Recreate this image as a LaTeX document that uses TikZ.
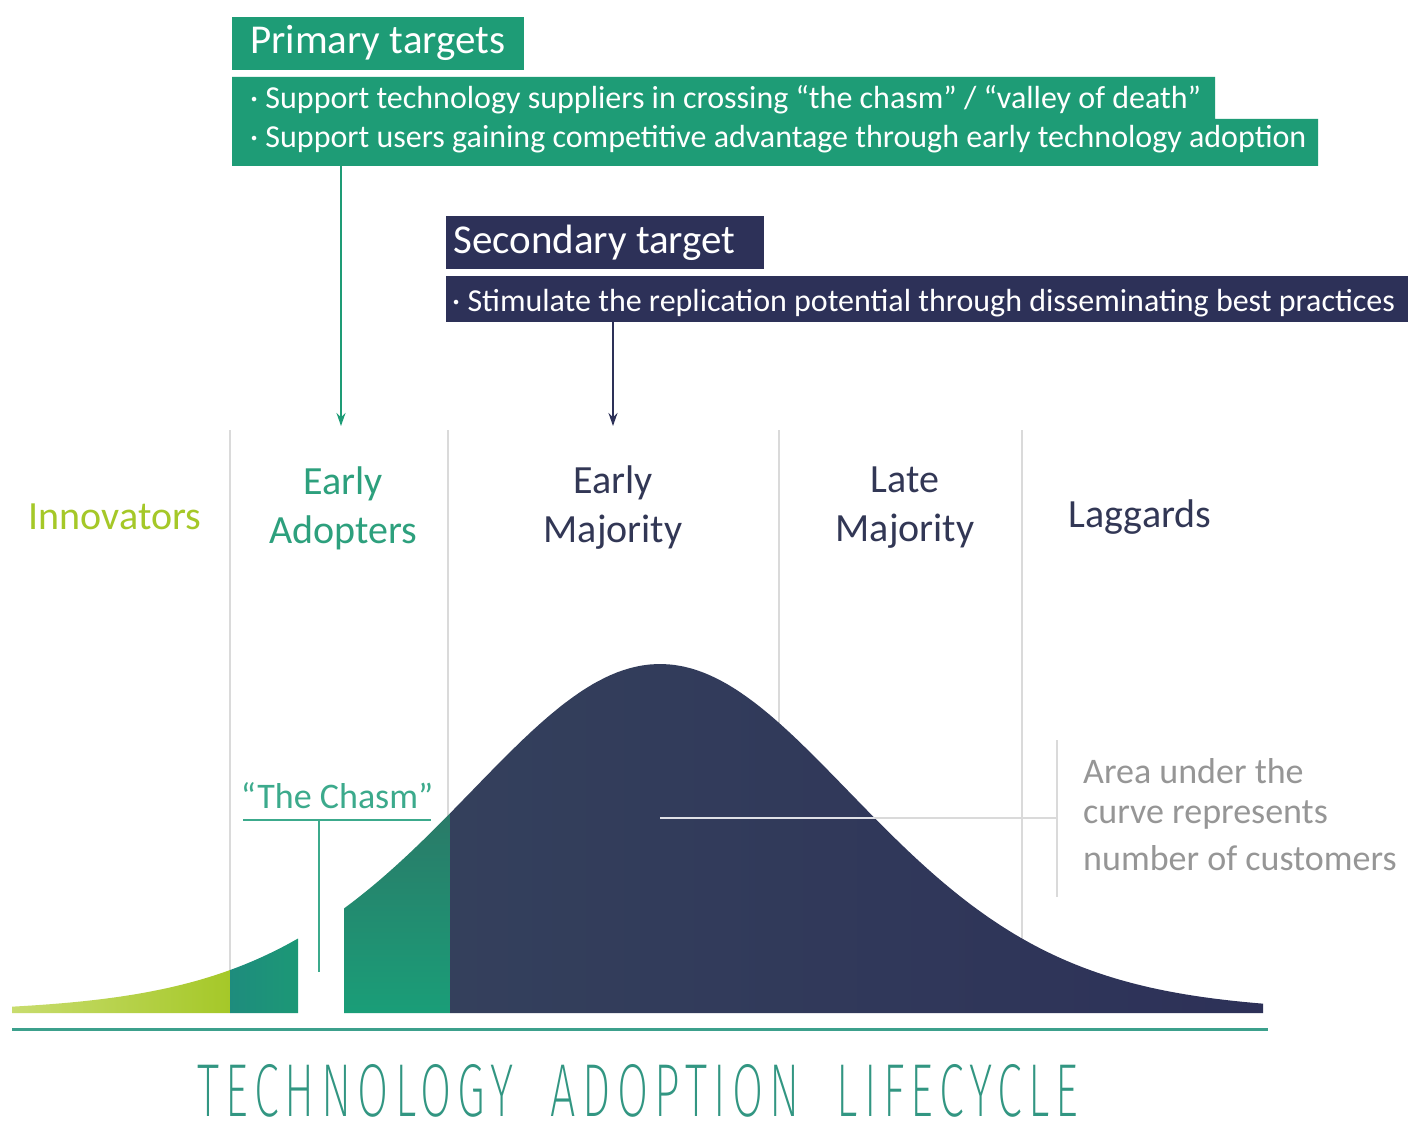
\documentclass[tikz,border=0pt]{standalone}
\usepackage{fontspec}
\usepackage{graphicx}
\setmainfont{Carlito}
\newfontfamily\thinfont[LetterSpace=14]{Fira Sans ExtraLight}
\usetikzlibrary{arrows.meta}
\definecolor{pgreen}{RGB}{30,156,118}
\definecolor{navy}{RGB}{45,49,88}
\definecolor{navyl}{RGB}{52,64,92}
\definecolor{innov}{RGB}{165,200,40}
\definecolor{innovl}{RGB}{200,220,110}
\definecolor{eatext}{RGB}{45,160,125}
\definecolor{chasm}{RGB}{60,170,140}
\definecolor{labnavy}{RGB}{50,55,85}
\definecolor{sepgray}{RGB}{218,218,218}
\definecolor{areagray}{RGB}{150,150,150}
\definecolor{baseteal}{RGB}{60,160,140}
\definecolor{titleteal}{RGB}{50,150,130}
\begin{document}
\begin{tikzpicture}[x=1pt,y=-1pt,
  declare function={hh(\q)=0.5*exp(-0.5*(\q/199)*(\q/199))+0.5/(cosh(\q/268)*cosh(\q/268)); cy(\q)=1013-349*hh(\q-660);},
  headbox/.style={anchor=north west, inner sep=0pt, minimum height=53pt},
  headtext/.style={anchor=west, inner sep=0pt, text=white, font=\fontsize{41}{48}\selectfont},
  linetext/.style={anchor=west, inner sep=0pt, text=white, font=\fontsize{32}{36}\selectfont},
  stage/.style={align=center, inner sep=0pt, font=\fontsize{40}{49}\selectfont},
  sep/.style={draw=sepgray, line width=1.5pt},
  arr/.style={line width=1.6pt, -{Stealth[length=13pt,width=9pt]}},
  areatext/.style={anchor=west, inner sep=0pt, text=areagray, font=\fontsize{36}{44}\selectfont}
]
\useasboundingbox (0,0) rectangle (1408,1139);
\fill[white] (0,0) rectangle (1408,1139);

% separators
\draw[sep] (230,430) -- (230,1012);
\draw[sep] (448,430) -- (448,1012);
\draw[sep] (779,430) -- (779,1012);
\draw[sep] (1022,430) -- (1022,1012);

% primary
\node (ptitlebox) [headbox, fill=pgreen, minimum width=292pt] at (232,17) {};
\node (ptitle) [headtext] at (250,43) {Primary targets};
\fill[pgreen] (232,77) -- (1215,77) -- (1215,119) -- (1318,119) -- (1318,166) -- (232,166) -- cycle;
\node (pl1) [linetext] at (250,100) {· Support technology suppliers in crossing “the chasm” / “valley of death”};
\node (pl2) [linetext] at (250,139) {· Support users gaining competitive advantage through early technology adoption};
\coordinate (pa1) at (341,166);
\coordinate (pa2) at (341,426);
\draw[arr, draw=pgreen, fill=pgreen] (pa1) -- (pa2);

% secondary
\node (stitlebox) [headbox, fill=navy, minimum width=318pt] at (446,216) {};
\node (stitle) [headtext] at (453,243) {Secondary target};
\fill[navy] (446,276) rectangle (1408,322);
\node (sl1) [linetext] at (452,303) {· Stimulate the replication potential through disseminating best practices};
\coordinate (sa1) at (613,322);
\coordinate (sa2) at (613,426);
\draw[arr, draw=navy, fill=navy] (sa1) -- (sa2);

% stage labels
\node (inn) [stage, text=innov] at (115,517) {Innovators};
\node (ea) [stage, text=eatext] at (343,508) {Early\\Adopters};
\node (em) [stage, text=labnavy] at (613,508) {Early\\Majority};
\node (lm) [stage, text=labnavy] at (905,508) {Late\\Majority};
\node (lg) [stage, text=labnavy] at (1140,517) {Laggards};

% curve
\shade[left color=innovl, right color=innov] (12,1013) -- plot[domain=12:230, samples=60] (\x,{cy(\x)}) -- (230,1013) -- cycle;
\shade[left color={rgb,255:red,30;green,140;blue,125}, right color={rgb,255:red,28;green,152;blue,118}] (230,1013) -- plot[domain=230:298, samples=30] (\x,{cy(\x)}) -- (298,1013) -- cycle;
\shade[top color={rgb,255:red,42;green,122;blue,104}, bottom color={rgb,255:red,26;green,158;blue,120}] (344,1013) -- plot[domain=344:450, samples=40] (\x,{cy(\x)}) -- (450,1013) -- cycle;
\shade[left color=navyl, right color=navy] (450,1013) -- plot[domain=450:1263, samples=200] (\x,{cy(\x)}) -- (1263,1013) -- cycle;

% area annotation
\draw[sepgray, line width=1.5pt] (1057,740) -- (1057,897);
\coordinate (al1) at (660,818);
\coordinate (al2) at (1057,818);
\draw[sepgray, line width=1.5pt] (al1) -- (al2);
\begin{scope}
\clip (450,1013) -- plot[domain=450:1263, samples=200] (\x,{cy(\x)}) -- (1263,1013) -- cycle;
\draw[white!85!navy, line width=2pt] (al1) -- (al2);
\end{scope}
\node (ar1) [areatext] at (1083,771) {Area under the};
\node (ar2) [areatext] at (1083,815) {curve represents};
\node (ar3) [areatext] at (1083,858) {number of customers};

% chasm
\node (ch) [inner sep=0pt, text=chasm, font=\fontsize{36}{40}\selectfont] at (337,796) {“The Chasm”};
\coordinate (c1) at (243,820);
\coordinate (c2) at (431,820);
\coordinate (c3) at (319,820);
\coordinate (c4) at (319,972);
\draw[chasm, line width=1.8pt] (c1) -- (c2);
\draw[chasm, line width=1.8pt] (c3) -- (c4);

% baseline
\coordinate (b1) at (12,1029);
\coordinate (b2) at (1268,1029);
\draw[baseteal, line width=3pt] (b1) -- (b2);

% title
\node (title) [inner sep=0pt, text=titleteal] at (638,1091) {\scalebox{0.6}[1]{\thinfont\fontsize{75}{80}\selectfont TECHNOLOGY\hspace{62pt}ADOPTION\hspace{62pt}LIFECYCLE}};
\end{tikzpicture}
\end{document}
